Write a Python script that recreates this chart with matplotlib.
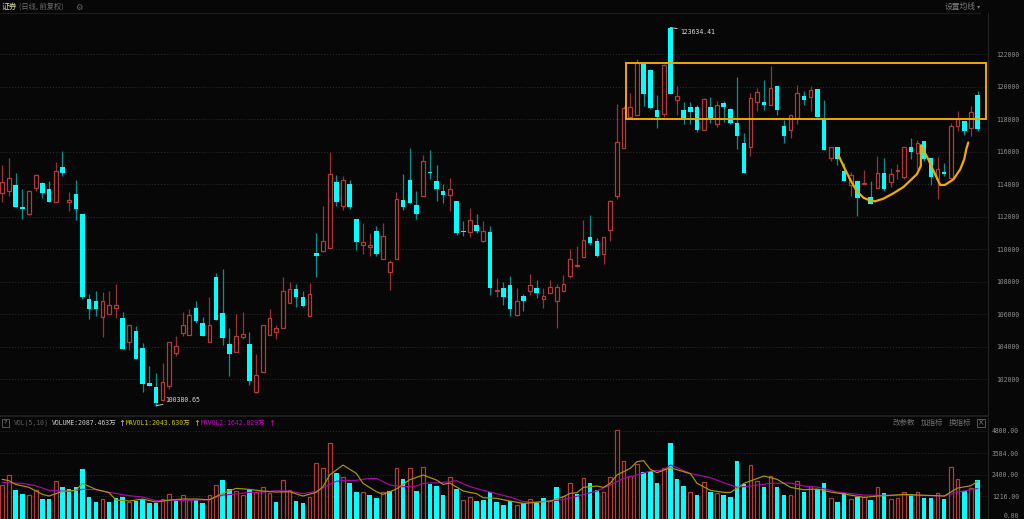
import matplotlib
matplotlib.use("Agg")
import matplotlib.pyplot as plt
from matplotlib.patches import Rectangle

# price candles, left to right
opens = [113490, 113590, 113940, 112630, 112150, 113780, 114090, 113700, 112920, 115080,
         112880, 113390, 112140, 106930, 106850, 105840, 106050, 106420, 105760, 104280,
         104980, 103930, 101770, 101550, 100740, 101590, 103600, 104840, 104750, 106400,
         105450, 104280, 108310, 106110, 104200, 103660, 104610, 104200, 101200, 102430,
         104750, 104940, 105140, 106690, 107550, 107060, 105930, 109790, 109870, 110100,
         114130, 112670, 114010, 111890, 110280, 110140, 111130, 109420, 108600, 109420,
         113020, 114270, 112710, 113290, 114750, 114190, 113590, 113350, 112940, 111150,
         111090, 111500, 110510, 111050, 107430, 107630, 107820, 105950, 107120, 107430,
         107590, 106930, 107300, 106810, 107410, 108350, 108970, 109520, 110780, 110510,
         109710, 111190, 113280, 116220, 118110, 118250, 121400, 121050, 118560, 118330,
         123634, 119200, 118540, 118740, 118720, 117350, 118720, 117720, 119010, 118640,
         117760, 116550, 116260, 119070, 119030, 118890, 120040, 117610, 117310, 118050,
         119400, 119380, 119870, 118000, 115620, 116260, 114800, 113960, 114220, 114020,
         113200, 113770, 114720, 114140, 114820, 114450, 116280, 115890, 116630, 115640,
         114310, 114760, 114370, 117610, 117880, 117430, 119500]
highs = [115180, 115590, 114660, 113680, 113620, 114620, 114150, 114170, 115380, 116060,
         113550, 114270, 112140, 107280, 107430, 107390, 107450, 107840, 106150, 105370,
         105290, 104240, 102820, 102370, 102990, 104300, 104650, 106170, 106340, 106850,
         105860, 107040, 108560, 108800, 105170, 106050, 106170, 104940, 103580, 105350,
         106300, 105350, 108270, 108020, 107840, 107450, 107940, 111020, 112670, 115980,
         114560, 114480, 114270, 111890, 111640, 110980, 111420, 111600, 109360, 113550,
         114600, 116230, 113590, 115790, 116100, 115180, 114010, 114360, 112940, 111770,
         112510, 112160, 111770, 111420, 108210, 108000, 108350, 107590, 107280, 108500,
         108130, 107630, 108130, 107840, 108450, 110000, 110180, 111810, 112090, 110720,
         110780, 113000, 118910, 118830, 119630, 121700, 121440, 121090, 119480, 121400,
         123634, 120040, 119030, 119030, 118870, 119280, 119340, 119090, 119090, 118660,
         120590, 117120, 119610, 119920, 120430, 121290, 120040, 117940, 118250, 120100,
         119750, 120060, 119870, 119180, 116260, 116280, 115330, 114780, 114240, 114880,
         114180, 115720, 115600, 115020, 115230, 116260, 116850, 116730, 116630, 115640,
         115680, 115330, 117760, 118480, 117900, 118830, 119710]
lows = [112920, 113290, 112570, 111850, 112110, 113590, 113180, 112880, 112920, 114500,
        112340, 111790, 106930, 105720, 105930, 104590, 106030, 105760, 103850, 103830,
        103250, 101200, 101590, 100380, 100700, 101440, 103460, 104690, 104730, 105450,
        104650, 104280, 105680, 104140, 102230, 103660, 104490, 101650, 101160, 102430,
        104710, 104510, 105140, 106690, 106480, 106480, 105890, 108310, 109850, 110080,
        112670, 112400, 112460, 109980, 109710, 109570, 109570, 109420, 107510, 109400,
        112400, 112830, 111870, 113250, 114310, 112980, 112830, 112380, 110900, 110820,
        110780, 111000, 110450, 107200, 107060, 106600, 105930, 105930, 106230, 107160,
        106990, 106420, 107300, 105140, 107410, 108230, 108890, 109520, 110260, 109520,
        109090, 110510, 113070, 116200, 118050, 118210, 118790, 118620, 117450, 118150,
        119545, 118250, 117720, 117700, 117200, 117330, 117760, 117510, 117840, 117700,
        116160, 114700, 115720, 118520, 118580, 118890, 118250, 116550, 116830, 117720,
        118890, 118500, 118110, 116110, 115440, 115210, 114180, 113280, 112040, 114020,
        112810, 113770, 113570, 113830, 114350, 114350, 115540, 114960, 115440, 113940,
        113070, 114510, 114310, 117260, 117040, 116980, 117260]
closes = [114110, 114360, 112610, 112460, 113590, 114580, 113470, 112920, 114790, 114660,
          113020, 112460, 107080, 106340, 106300, 106810, 106580, 106560, 103850, 105370,
          103250, 101690, 101590, 100520, 101830, 104300, 104060, 105370, 105970, 105620,
          104670, 105370, 105680, 104550, 103560, 104650, 104770, 101900, 102290, 105350,
          105760, 105170, 107430, 107550, 107060, 106500, 107260, 109590, 110510, 114600,
          112920, 114290, 112570, 110430, 110430, 110280, 109710, 110800, 109220, 113100,
          112610, 112850, 112200, 115400, 114710, 113720, 113330, 113680, 111000, 111090,
          111810, 111130, 111110, 107630, 107470, 107060, 106340, 106830, 106810, 107820,
          107320, 107140, 107690, 107690, 107880, 109420, 109050, 110590, 110370, 109590,
          110780, 112980, 116570, 118660, 118720, 121440, 119550, 118660, 118130, 121310,
          119545, 119400, 118050, 118420, 117330, 119220, 118050, 118850, 118740, 117760,
          116980, 114700, 119280, 119650, 118870, 119920, 118560, 116940, 118250, 119610,
          119180, 119770, 118110, 116110, 116260, 115560, 114200, 114550, 113130, 114060,
          112810, 114680, 113690, 114650, 114860, 116260, 115990, 116520, 115580, 114470,
          114940, 114610, 117570, 118000, 117290, 118420, 117390]

# volume bars in units of 万
volumes = [1838, 2366, 1583, 1329, 1274, 1583, 1074, 1074, 2038, 1711, 1602, 1729, 2712, 1201, 892,
           1056, 892, 1147, 1183, 910, 965, 1074, 855, 874, 1056, 1329, 1001, 1274, 1037, 1019,
           837, 1274, 1820, 2111, 1602, 1492, 1292, 1565, 1438, 1711, 1401, 928, 2093, 1547, 965,
           855, 1183, 3021, 2766, 4113, 2493, 2257, 1966, 1456, 1456, 1292, 1128, 1438, 1511, 2766,
           2166, 2748, 1511, 2803, 1911, 1784, 1274, 2257, 1638, 1001, 1165, 965, 1001, 1456, 910,
           728, 965, 728, 837, 1056, 837, 1110, 965, 1711, 1256, 1929, 1329, 2202, 1947, 1547,
           1456, 2275, 4823, 3130, 2330, 2967, 2566, 2603, 1966, 2748, 4113, 2166, 1802, 1438, 1292,
           1984, 1438, 1401, 1274, 1165, 3130, 1875, 2948, 2038, 1729, 2311, 1711, 1292, 1274, 2038,
           1456, 1765, 1620, 1947, 1128, 928, 1401, 1092, 1201, 1183, 1001, 1729, 1401, 1074, 1110,
           1438, 1329, 1456, 1110, 1128, 1401, 1056, 2803, 2148, 1511, 1656, 2087]
vol_up = [1, 1, 0, 0, 1, 1, 0, 0, 1, 0, 0, 0, 0, 0, 0, 1, 0, 0, 0, 1, 0, 0, 0, 0, 1, 1, 0, 1, 1, 0,
          0, 1, 1, 0, 0, 1, 1, 0, 1, 1, 1, 0, 1, 1, 0, 0, 1, 1, 1, 1, 0, 1, 0, 0, 1, 0, 0, 1, 0, 1,
          0, 1, 0, 1, 0, 0, 0, 1, 0, 1, 1, 0, 0, 0, 0, 0, 0, 1, 0, 1, 0, 0, 1, 0, 1, 1, 0, 1, 0, 0,
          1, 1, 1, 1, 1, 1, 0, 0, 0, 1, 0, 0, 0, 1, 0, 1, 0, 1, 0, 0, 0, 0, 1, 1, 0, 1, 0, 0, 1, 1,
          0, 1, 0, 0, 1, 0, 0, 1, 0, 1, 0, 1, 0, 1, 1, 1, 0, 1, 0, 0, 1, 0, 1, 1, 0, 1, 0]

mavol1_idx = [0, 1, 2, 4, 6, 7, 9, 11, 12, 14, 16, 17, 19, 21, 23, 25, 27, 29, 31, 33, 35, 37, 39, 41, 43,
              45, 47, 48, 49, 51, 53, 54, 56, 57, 59, 61, 63, 65, 66, 67, 69, 71, 72, 74, 76, 78, 80, 82,
              84, 85, 86, 87, 89, 90, 91, 92, 94, 95, 96, 97, 98, 100, 101, 103, 104, 106, 108, 109, 110,
              111, 114, 116, 118, 120, 122, 124, 126, 129, 131, 133, 135, 137, 140, 141, 143, 145, 146]
mavol1 = [2148, 2075, 1875, 1711, 1329, 1238, 1492, 1547, 1929, 1602, 1420, 1019, 965, 1074, 910, 1019, 1074,
          1074, 1037, 1383, 1656, 1602, 1511, 1456, 1474, 1238, 1438, 1747, 2384, 2930, 2475, 1929, 1474,
          1329, 1620, 2129, 2384, 2111, 1875, 1947, 1511, 1365, 1147, 1110, 965, 837, 892, 965, 1201, 1383,
          1420, 1711, 1784, 1711, 1929, 2384, 2748, 3112, 3167, 2694, 2512, 2785, 2675, 2457, 1929, 1547,
          1438, 1438, 1656, 1929, 2330, 2148, 1711, 1583, 1620, 1456, 1347, 1165, 1238, 1274, 1329, 1292,
          1256, 1238, 1674, 1802, 2043]
mavol2_idx = [0, 3, 5, 7, 10, 12, 14, 16, 19, 21, 23, 25, 27, 31, 33, 35, 37, 39, 41, 43, 45, 47, 49, 50,
              51, 53, 55, 56, 58, 60, 62, 63, 66, 68, 70, 73, 76, 78, 80, 82, 84, 86, 89, 91, 93, 95, 97,
              99, 100, 101, 103, 106, 108, 110, 112, 115, 118, 120, 122, 125, 129, 132, 135, 141, 143, 146]
mavol2 = [1984, 1929, 1802, 1547, 1492, 1602, 1583, 1438, 1256, 1183, 983, 1001, 1001, 1037, 1292, 1347, 1438,
          1456, 1529, 1511, 1365, 1492, 1875, 2038, 2093, 2093, 2202, 2202, 1838, 1747, 1784, 1929, 1984,
          2075, 1747, 1456, 1183, 928, 910, 965, 1037, 1219, 1511, 1838, 2202, 2384, 2603, 2657, 2930, 2785,
          2475, 2239, 1966, 1711, 1784, 1929, 1947, 1784, 1729, 1456, 1292, 1274, 1292, 1238, 1456, 1642]

# hand drawn yellow strokes over the candles
box_x = [93.4, 147.3]
box_y = [118025, 121480]
stroke_x = [125.16, 125.91, 126.9, 127.9, 128.9, 129.9, 130.65, 131.9, 133.4, 134.9, 135.9, 136.9, 137.5,
            137.53, 138.6, 139.4, 140.4, 141.1, 142.4, 143.4, 144.0, 144.3, 144.6]
stroke_y = [115785, 115127, 114305, 113586, 113175, 112990, 112949, 113113, 113442, 113832, 114223, 114613,
            115127, 116401, 115538, 114819, 113956, 113956, 114305, 114921, 115538, 116155, 116565]

price_ticks = [102000, 104000, 106000, 108000, 110000, 112000, 114000, 116000, 118000, 120000, 122000]
vol_ticks = [0, 1216, 2400, 3584, 4800]
vol_tick_labels = ["0.00", "1216.00", "2400.00", "3584.00", "4800.00"]

BG = "#070707"
RED = "#b23b3b"
RED_WICK = "#963232"
CYAN = "#00ffff"
CYAN_WICK = "#0a8f8f"
GRID = "#2c2c2c"
LABEL = "#8c8c8c"
GOLD = "#f2a900"
CJK = ["Noto Sans CJK SC", "DejaVu Sans"]
MONO = ["DejaVu Sans Mono", "Noto Sans CJK SC"]
W, H = 1024, 519


def px_text(x, y, s, color=LABEL, size=5.2, family=CJK, ha="left"):
    fig.text(x / W, 1 - y / H, s, color=color, fontsize=size, family=family, ha=ha, va="center")


def style_axes(ax, ticks, labels=None):
    ax.set_facecolor(BG)
    ax.set_xlim(-0.344, 147.48)
    ax.set_xticks([])
    ax.set_yticks(ticks)
    if labels:
        ax.set_yticklabels(labels)
    ax.yaxis.tick_right()
    ax.tick_params(axis="y", length=0, pad=22.7, labelsize=4.7, labelcolor=LABEL)
    for t in ax.get_yticklabels():
        t.set_family(MONO)
        t.set_ha("right")
    ax.grid(axis="y", color=GRID, ls=(0, (1, 2)), lw=0.7)
    ax.set_axisbelow(True)
    for s in ax.spines.values():
        s.set_visible(False)
    ax.spines["right"].set_visible(True)
    ax.spines["right"].set_color("#222222")
    ax.spines["right"].set_linewidth(0.8)


fig = plt.figure(figsize=(W / 100, H / 100), dpi=100, facecolor=BG)
ax = fig.add_axes([0, 1 - 415 / H, 987.5 / W, 402 / H])
vax = fig.add_axes([0, 0, 987.5 / W, 101 / H])

ax.set_ylim(99813, 124527)
vax.set_ylim(-16, 5498)
style_axes(ax, price_ticks)
style_axes(vax, vol_ticks, vol_tick_labels)
vax.get_yticklabels()[0].set_va("bottom")

for i in range(len(opens)):
    up = closes[i] >= opens[i]
    top, bot = max(opens[i], closes[i]), min(opens[i], closes[i])
    ax.vlines(i, lows[i], highs[i], color=RED_WICK if up else CYAN_WICK, lw=0.9, zorder=2)
    if up:
        ax.bar(i, max(top - bot, 60), bottom=bot, width=0.56, facecolor=BG, edgecolor=RED, lw=0.9, zorder=3)
    else:
        ax.bar(i, max(top - bot, 60), bottom=bot, width=0.68, facecolor=CYAN, edgecolor="none", zorder=3)

for i, v in enumerate(volumes):
    if vol_up[i]:
        vax.bar(i, v, width=0.56, facecolor=BG, edgecolor=RED, lw=0.9, zorder=2)
    else:
        vax.bar(i, v, width=0.68, facecolor=CYAN, edgecolor="none", zorder=2)
vax.plot(mavol2_idx, mavol2, color="#a808a8", lw=0.85, zorder=3)
vax.plot(mavol1_idx, mavol1, color="#a89a00", lw=0.85, zorder=4)

ax.add_patch(Rectangle((box_x[0], box_y[0]), box_x[1] - box_x[0], box_y[1] - box_y[0],
                       fill=False, edgecolor=GOLD, lw=1.4, zorder=5))
ax.plot(stroke_x, stroke_y, color=GOLD, lw=1.6, solid_capstyle="round", solid_joinstyle="round", zorder=5)

ax.annotate("123634.41", xy=(100, 123634), xytext=(7, -3), textcoords="offset points", color="#d8d8d8",
            fontsize=4.7, family=MONO, va="center",
            arrowprops=dict(arrowstyle="-", color="#c8c8c8", lw=0.7, shrinkA=0, shrinkB=0))
ax.annotate("100380.65", xy=(23, 100380), xytext=(7, 4), textcoords="offset points", color="#d8d8d8",
            fontsize=4.7, family=MONO, va="center",
            arrowprops=dict(arrowstyle="-", color="#c8c8c8", lw=0.7, shrinkA=0, shrinkB=0))

# header rows
fig.add_artist(plt.Line2D([0, 980 / W], [1 - 13 / H] * 2, color="#1c1c1c", lw=0.8))
fig.add_artist(plt.Line2D([0, 987.5 / W], [1 - 416 / H] * 2, color="#222222", lw=1.2))
px_text(2, 7, "证券", color="#d8d8a0", size=5.6)
px_text(19, 7, "(日线, 前复权)", color="#6e6e6e", size=5.2)
px_text(79, 7, "⚙", color="#666666", size=6, family=["DejaVu Sans"], ha="center")
px_text(945, 7, "设置均线", color="#7c7c7c", size=5.6)
px_text(977, 7, "▾", color="#7c7c7c", size=4.5, family=["DejaVu Sans"])

fig.add_artist(Rectangle((2 / W, 1 - 427 / H), 6.5 / W, 8 / H, transform=fig.transFigure,
                         fill=False, edgecolor="#555555", lw=0.7))
px_text(5.2, 423, "?", color="#888888", size=4.5, family=MONO, ha="center")
px_text(14, 423, "VOL(5,10)", color="#5e5e5e", size=4.7, family=MONO)
px_text(52, 423, "VOLUME:2087.463万", color="#c8c8c8", size=4.7, family=MONO)
px_text(118.5, 423, "↑", color="#c8c8c8", size=6, family=["DejaVu Sans"])
px_text(126, 423, "MAVOL1:2043.630万", color="#c8c800", size=4.7, family=MONO)
px_text(193.5, 423, "↑", color="#c8c800", size=6, family=["DejaVu Sans"])
px_text(201, 423, "MAVOL2:1642.829万", color="#c800c8", size=4.7, family=MONO)
px_text(268.5, 423, "↑", color="#c800c8", size=6, family=["DejaVu Sans"])
px_text(893, 423, "改参数", color="#6e6e6e", size=5.4)
px_text(921, 423, "加指标", color="#6e6e6e", size=5.4)
px_text(949, 423, "换指标", color="#6e6e6e", size=5.4)
fig.add_artist(Rectangle((977 / W, 1 - 427 / H), 8 / W, 8 / H, transform=fig.transFigure,
                         fill=False, edgecolor="#555555", lw=0.7))
px_text(981, 423, "×", color="#777777", size=5.5, family=["DejaVu Sans"], ha="center")

fig.savefig("out.png", dpi=100, facecolor=BG)
